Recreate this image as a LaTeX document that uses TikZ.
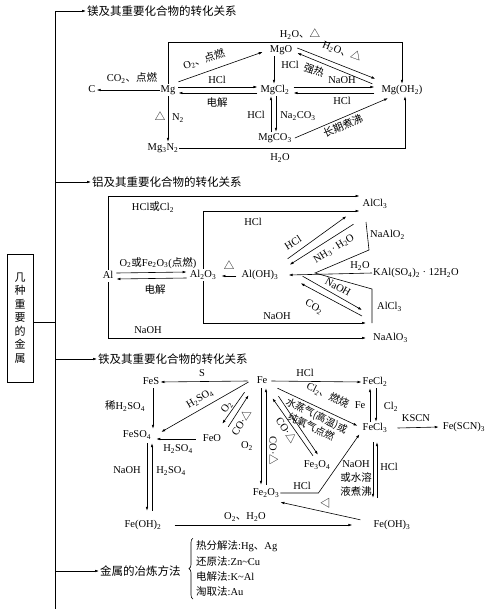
\documentclass[tikz,border=0pt]{standalone}
\usepackage{fontspec}
\setmainfont{Liberation Serif}
\newfontfamily\cjk{Noto Sans CJK SC}
\usetikzlibrary{arrows.meta, calc, decorations.pathreplacing}
\newcommand{\zh}[1]{{\cjk #1}}
\newcommand{\sbs}[1]{\textsubscript{#1}}

\begin{document}
\begin{tikzpicture}[x=1pt, y=-1pt,
    every node/.style={font=\fontsize{10.5}{12}\selectfont, inner sep=1pt},
    chem/.style={text height=7.5pt, text depth=2.5pt},
    arr/.style={-{Latex[length=4pt,width=2.6pt]}, line width=0.6pt},
    ln/.style={line width=0.6pt},
    sectitle/.style={anchor=west, font=\cjk\fontsize{11.5}{13}\selectfont},
]

\useasboundingbox (0,0) rectangle (490,611);

% === Trunk ===
\coordinate (ttop) at (55,11);
\coordinate (tbot) at (55,609);
\draw[ln] (ttop) -- (tbot);

\node[draw, line width=0.6pt, minimum width=26pt, minimum height=128pt, align=center,
      font=\cjk\fontsize{11}{13.5}\selectfont] (metal) at (20,318) {几\\种\\重\\要\\的\\金\\属};
\draw[ln] ($(metal.east)+(0,4)$) -- ($(metal.east -| ttop)+(0,4)$);

\node[sectitle] (tmg) at (86,11) {镁及其重要化合物的转化关系};
\node[sectitle] (tal) at (91,182) {铝及其重要化合物的转化关系};
\node[sectitle] (tfe) at (97,359) {铁及其重要化合物的转化关系};
\node[sectitle] (tsm) at (99,571) {金属的冶炼方法};
\draw[arr] (ttop) -- (tmg.west);
\draw[arr] (tal.west -| ttop) -- (tal.west);
\draw[arr] (tfe.west -| ttop) -- (tfe.west);
\draw[arr] (tsm.west -| ttop) -- (tsm.west);

% === Mg ===
\node[chem] (mg) at (168,90) {Mg};
\node[chem] (c) at (92,90) {C};
\node[chem] (mgo) at (281,50) {MgO};
\node[chem] (mgcl) at (275,90) {MgCl\sbs{2}};
\node[chem] (mgoh) at (402,90) {Mg(OH\sbs{2})};
\node[chem] (mgco) at (275,138) {MgCO\sbs{3}};
\node[chem] (mgn) at (163,148) {Mg\sbs{3}N\sbs{2}};

\draw[arr] (mg.west) -- (c.east);
\node at (132,78) {CO\sbs{2}\zh{、点燃}};

\draw[arr] ($(mg.north east)+(2,-2)$) -- ($(mgo.west)+(-6,2)$);
\node[rotate=18] at (204,59) {O\sbs{2}\zh{、点燃}};

\draw[arr] (mg.north) -- ++(0,-42) -| (mgoh.north);
\node at (300,34) {H\sbs{2}O\zh{、△}};

\draw[arr] ($(mgo.south)+(-7,0)$) -- ($(mgcl.north)+(-1,0)$);
\node at (290,65) {HCl};

\draw[arr] ($(mg.east)+(2,-3)$) -- ($(mgcl.west)+(-2,-3)$);
\draw[arr] ($(mgcl.west)+(-2,3)$) -- ($(mg.east)+(2,3)$);
\node at (217,80) {HCl};
\node at (217,103) {\zh{电解}};

\draw[arr] ($(mgo.east)+(4,-2)$) -- ($(mgoh.north west)+(-5,-5)$);
\draw[arr] ($(mgoh.north west)+(-8,0)$) -- ($(mgo.east)+(4,3)$);
\node[rotate=-20] at (342,51) {H\sbs{2}O\zh{、△}};
\node[rotate=-20] at (314,70) {\zh{强热}};

\draw[arr] ($(mgcl.east)+(3,-3)$) -- ($(mgoh.west)+(-6,-3)$);
\draw[arr] ($(mgoh.west)+(-6,3)$) -- ($(mgcl.east)+(3,3)$);
\node at (342,80) {NaOH};
\node at (342,101) {HCl};

\draw[arr] ($(mgco.north)+(-4,0)$) -- ($(mgcl.south)+(-4,0)$);
\draw[arr] ($(mgcl.south)+(1,0)$) -- ($(mgco.north)+(1,0)$);
\node at (256,115) {HCl};
\node at (298,116) {Na\sbs{2}CO\sbs{3}};

\draw[arr] ($(mgco.east)+(2,0)$) -- ($(mgoh.south)+(-14,2)$);
\node[rotate=23] at (343,126) {\zh{长期煮沸}};

\draw[arr] (mgn.east) -| ($(mgoh.south)+(3,0)$);
\node at (280,158) {H\sbs{2}O};

\draw[arr] (mg.south) -- (mg.south |- mgn.north);
\node at (160,116) {\zh{△}};
\node at (178,118) {N\sbs{2}};

% === Al ===
\node[chem] (al) at (108,276) {Al};
\node[chem] (alo) at (203,275) {Al\sbs{2}O\sbs{3}};
\node[chem] (aloh) at (260,275) {Al(OH)\sbs{3}};
\node[chem] (alcl) at (375,204) {AlCl\sbs{3}};
\node[chem, anchor=west] (naalo2) at (369,235) {NaAlO\sbs{2}};
\node[chem, anchor=west] (kal) at (372,273) {KAl(SO\sbs{4})\sbs{2}\ ·\ 12H\sbs{2}O};
\node[chem, anchor=west] (alcl2) at (376,307) {AlCl\sbs{3}};
\node[chem, anchor=west] (naalo3) at (372,338) {NaAlO\sbs{3}};

\draw[arr] (al.north) |- ($(alcl.west)+(-2,-8)$);
\node at (153,207) {HCl\zh{或}Cl\sbs{2}};
\draw[arr] (alo.north) |- ($(alcl.west)+(-2,7)$);
\node at (253,222) {HCl};

\draw[arr] ($(al.east)+(2,-3)$) -- ($(alo.west)+(-2,-3)$);
\draw[arr] ($(alo.west)+(-2,3)$) -- ($(al.east)+(2,3)$);
\node at (158,263) {O\sbs{2}\zh{或}Fe\sbs{2}O\sbs{3}(\zh{点燃})};
\node at (155,290) {\zh{电解}};

\draw[arr] ($(aloh.west)+(-4,1)$) -- ($(alo.east)+(4,1)$);
\node at (229,265) {\zh{△}};

\draw[arr] (alo.south) |- ($(naalo3.west)+(-6,-15)$);
\node at (277,316) {NaOH};
\draw[arr] (al.south) |- ($(naalo3.west)+(-6,0)$);
\node at (148,330) {NaOH};

% bracket of the three salts
\coordinate (cv) at (315,273);
\coordinate (b1) at (366,222);
\coordinate (b2) at (369,250);
\coordinate (b3) at (372,289);
\coordinate (b4) at (372,323);
\draw[ln] (b1) -- (b2) -- (cv) -- (b3) -- (b4);
\draw[arr] (kal.west) -- ($(aloh.east)+(9,0)$);
\node at (360,266) {H\sbs{2}O};

\draw[arr] ($(aloh.north east)+(8,-10)$) -- ($(alcl.south west)+(-15,6)$);
\draw[arr] ($(alcl.south west)+(-8,14)$) -- ($(aloh.north east)+(10,-4)$);
\node[rotate=32] at (293,243) {HCl};
\node[rotate=32] at (334,249) {NH\sbs{3}\,·\,H\sbs{2}O};

\draw[arr] ($(aloh.south east)+(23,-5)$) -- ($(alcl2.west)+(-14,3)$);
\draw[arr] ($(alcl2.west)+(-14,9)$) -- ($(aloh.south east)+(21,2)$);
\node[rotate=-29] at (338,287) {NaOH};
\node[rotate=-29] at (314,307) {CO\sbs{2}};

% === Fe ===
\node[chem] (fe) at (262,381) {Fe};
\node[chem] (fes) at (151,382) {FeS};
\node[chem] (fecl2) at (375,382) {FeCl\sbs{2}};
\node[chem] (fecl3) at (375,428) {FeCl\sbs{3}};
\node[chem] (fescn) at (464,427) {Fe(SCN)\sbs{3}};
\node[chem] (feso4) at (137,435) {FeSO\sbs{4}};
\node[chem] (feo) at (212,439) {FeO};
\node[chem] (fe3o4) at (317,465) {Fe\sbs{3}O\sbs{4}};
\node[chem] (fe2o3) at (266,493) {Fe\sbs{2}O\sbs{3}};
\node[chem] (feoh2) at (143,525) {Fe(OH)\sbs{2}};
\node[chem] (feoh3) at (392,525) {Fe(OH)\sbs{3}};

\draw[arr] ($(fe.west)+(-8,0)$) -- (fes.east);
\node at (202,373) {S};
\draw[arr] ($(fe.east)+(3,0)$) -- (fecl2.west);
\node at (305,373) {HCl};

\draw[arr] ($(fe.south east)+(9,1)$) -- ($(fecl3.north west)+(-4,4)$);
\node[rotate=-26] at (328,395) {Cl\sbs{2}\zh{、燃烧}};
\node[rotate=-26, align=center, font=\cjk\fontsize{10}{12.5}\selectfont] at (314,421) {水蒸气(高温)或\\纯氧气点燃};

\draw[arr] ($(fe.south east)+(10,9)$) -- ($(fe3o4.north)+(1,-4)$);
\draw[arr] ($(fe3o4.north)+(-4,-3)$) -- ($(fe.south east)+(4,11)$);
\node[rotate=-56] at (287,430) {CO·\zh{△}};

\draw[arr] ($(fe.south)+(-1,1)$) -- ($(fe2o3.north)+(-5,-2)$);
\draw[arr] ($(fe2o3.north)+(0,-2)$) -- ($(fe.south)+(4,1)$);
\node at (247,446) {O\sbs{2}};
\node[rotate=-90] at (274,451) {CO·\zh{△}};

\draw[arr] ($(fe.south west)+(-11,5)$) -- ($(feo.north east)+(0,-9)$);
\draw[arr] ($(feo.north east)+(6,-6)$) -- ($(fe.south west)+(-7,8)$);
\node[rotate=54] at (227,407) {O\sbs{2}};
\node[rotate=57] at (241,422) {CO·\zh{△}};

\draw[arr] ($(fe.west)+(-7,1)$) -- ($(feso4.east)+(9,-3)$);
\node[rotate=31] at (200,399) {H\sbs{2}SO\sbs{4}};

\draw[arr] ($(fes.south)+(2,0)$) -- ($(feso4.north)+(16,0)$);
\node at (125,406) {\zh{稀}H\sbs{2}SO\sbs{4}};

\draw[arr] ($(feo.west)+(-6,0)$) -- ($(feso4.east)+(4,4)$);
\node at (178,449) {H\sbs{2}SO\sbs{4}};

\draw[arr] ($(feso4.south)+(10,2)$) -- ($(feoh2.north)+(4,-8)$);
\draw[arr] ($(feoh2.north)+(9,-8)$) -- ($(feso4.south)+(15,2)$);
\node at (127,470) {NaOH};
\node at (171,471) {H\sbs{2}SO\sbs{4}};

\draw[arr] ($(feoh2.east)+(12,0)$) -- ($(feoh3.west)+(-20,0)$);
\node at (245,517) {O\sbs{2}\zh{、}H\sbs{2}O};

\draw[arr] ($(feoh3.north west)+(-12,1)$) -- ($(fe2o3.south east)+(0,3)$);
\node[rotate=90] at (325,503) {\zh{△}};

\draw[arr] (fe2o3.east) -- ++(38,0) -- ($(fecl3.south west)+(-2,0)$);
\node at (302,486) {HCl};

\draw[arr] ($(fecl3.south)+(-2,8)$) -- ($(feoh3.north)+(-19,-21)$);
\draw[arr] ($(feoh3.north)+(-15,-21)$) -- ($(fecl3.south)+(2,8)$);
\node[align=center, font=\fontsize{10.5}{14}\selectfont] at (356,478) {NaOH\\\zh{或水溶}\\\zh{液煮沸}};
\node at (389,467) {HCl};

\draw[arr] ($(fecl3.north)+(-5,0)$) -- ($(fecl2.south)+(-5,0)$);
\draw[arr] ($(fecl2.south)+(1,0)$) -- ($(fecl3.north)+(1,0)$);
\node at (360,405) {Fe};
\node at (391,407) {Cl\sbs{2}};

\draw[arr] ($(fecl3.east)+(9,0)$) -- ($(fescn.west)+(-3,0)$);
\node at (416,418) {KSCN};

% === Smelting ===
\node[anchor=west] (s1) at (195,546) {\zh{热分解法}:Hg\zh{、}Ag};
\node[anchor=west] (s2) at (195,562) {\zh{还原法}:Zn\textasciitilde Cu};
\node[anchor=west] (s3) at (195,577) {\zh{电解法}:K\textasciitilde Al};
\node[anchor=west] (s4) at (195,592) {\zh{淘取法}:Au};
\draw[ln, decorate, decoration={brace, amplitude=4pt}] ($(s4.south west)+(-2,1)$) -- ($(s1.north west)+(-2,-1)$);

\end{tikzpicture}
\end{document}
